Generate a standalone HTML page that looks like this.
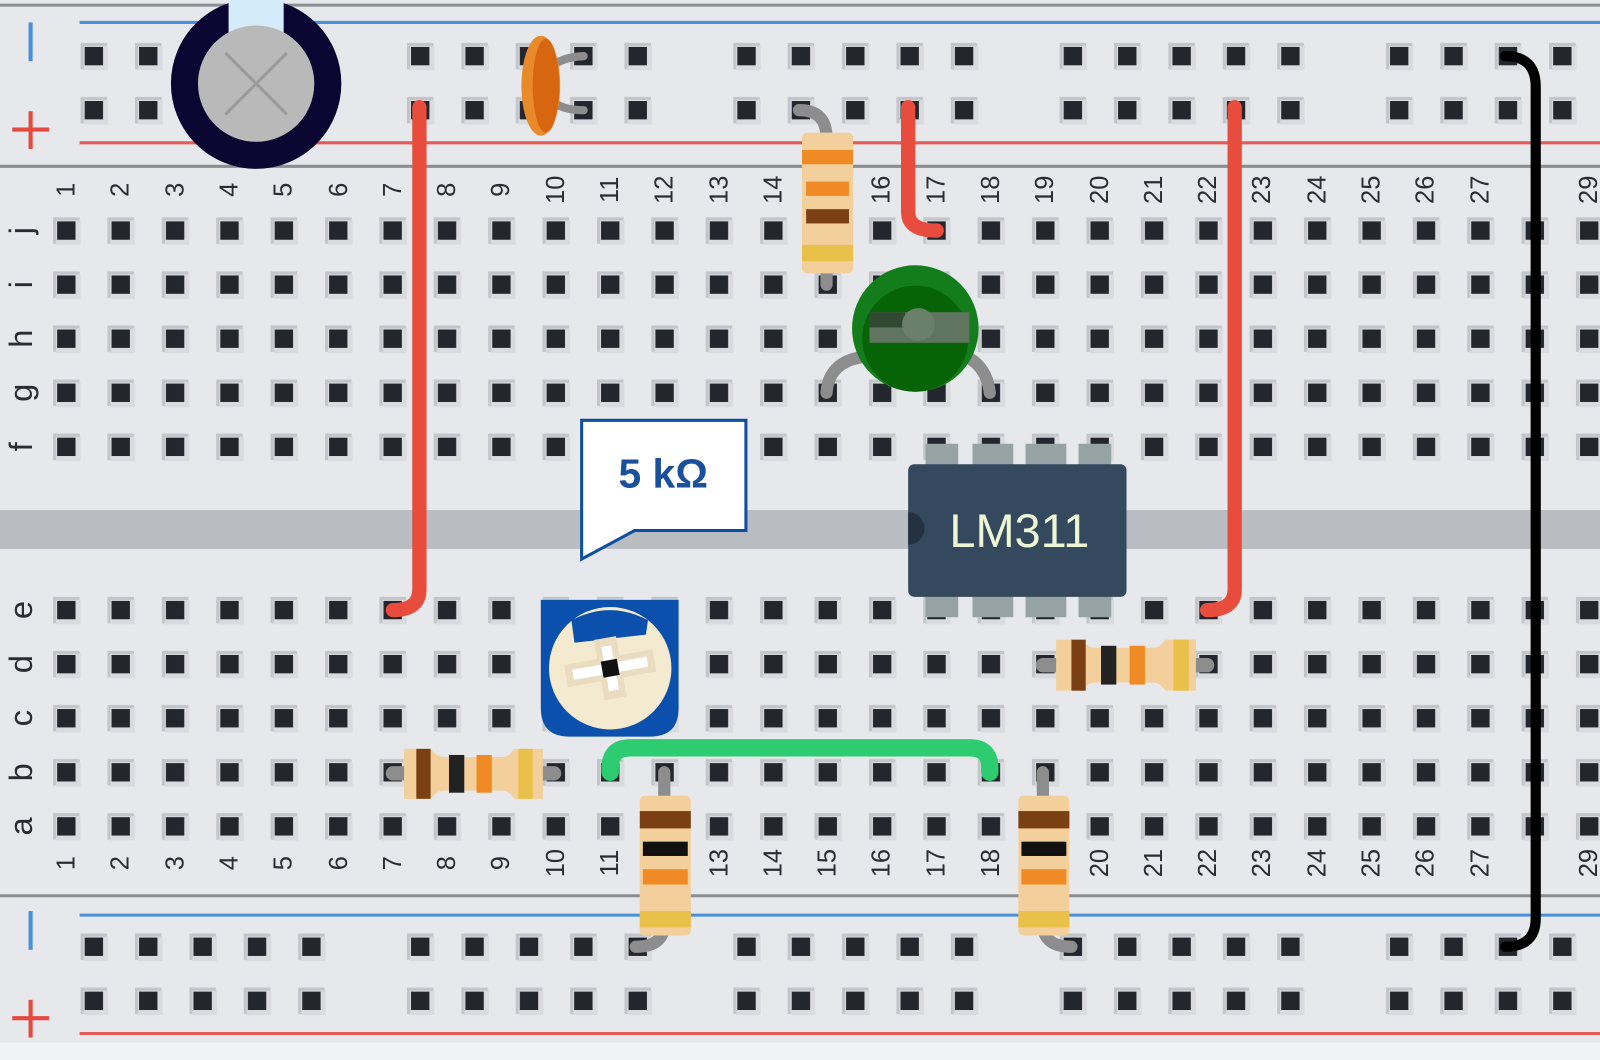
<!DOCTYPE html>
<html><head><meta charset="utf-8"><style>
html,body{margin:0;padding:0;background:#e6e8eb;}
svg{display:block;}
text{font-family:"Liberation Sans",sans-serif;}
</style></head><body>
<svg width="1600" height="1060" viewBox="0 0 1568 1039" preserveAspectRatio="none" xmlns="http://www.w3.org/2000/svg">
<defs>
<g id="h"><rect x="-13" y="-13" width="26" height="26" fill="#c2c5ca"/><rect x="-10" y="-10" width="24" height="24" fill="#d9dbdf"/><rect x="-9" y="-9" width="18" height="18" fill="#23262d"/></g>
<pattern id="p1" patternUnits="userSpaceOnUse" x="38.35" y="199.5" width="53.3" height="53"><use href="#h" x="26.65" y="26.5"/></pattern>
<pattern id="p2" patternUnits="userSpaceOnUse" x="38.35" y="571.5" width="53.3" height="53"><use href="#h" x="26.65" y="26.5"/></pattern>
<pattern id="r1" patternUnits="userSpaceOnUse" x="65.35" y="28.5" width="53.3" height="53"><use href="#h" x="26.65" y="26.5"/></pattern>
<pattern id="r2" patternUnits="userSpaceOnUse" x="65.35" y="901.5" width="53.3" height="53"><use href="#h" x="26.65" y="26.5"/></pattern>
</defs>
<rect x="0" y="0" width="1568" height="1039" fill="#e6e8eb"/>
<rect x="0" y="1022" width="1568" height="17" fill="#f1f2f4"/>
<line x1="0" y1="5" x2="1568" y2="5" stroke="#8c8f94" stroke-width="3"/>
<line x1="78" y1="22" x2="1568" y2="22" stroke="#4a8fdb" stroke-width="3"/>
<line x1="78" y1="140" x2="1568" y2="140" stroke="#e35b57" stroke-width="3"/>
<line x1="0" y1="163" x2="1568" y2="163" stroke="#8a8d92" stroke-width="3"/>
<line x1="0" y1="878" x2="1568" y2="878" stroke="#8a8d92" stroke-width="3"/>
<line x1="78" y1="897" x2="1568" y2="897" stroke="#4a8fdb" stroke-width="3"/>
<line x1="78" y1="1013" x2="1568" y2="1013" stroke="#e35b57" stroke-width="3"/>
<rect x="0" y="500" width="1568" height="38" fill="#b9bdc2"/>
<!-- holes -->
<rect x="38.35" y="199.5" width="1545.7" height="265" fill="url(#p1)"/>
<rect x="38.35" y="571.5" width="1545.7" height="265" fill="url(#p2)"/>
<rect x="65.35" y="28.5" width="266.5" height="106" fill="url(#r1)"/>
<rect x="385.15" y="28.5" width="266.5" height="106" fill="url(#r1)"/>
<rect x="704.95" y="28.5" width="266.5" height="106" fill="url(#r1)"/>
<rect x="1024.75" y="28.5" width="266.5" height="106" fill="url(#r1)"/>
<rect x="1344.55" y="28.5" width="266.5" height="106" fill="url(#r1)"/>
<rect x="65.35" y="901.5" width="266.5" height="106" fill="url(#r2)"/>
<rect x="385.15" y="901.5" width="266.5" height="106" fill="url(#r2)"/>
<rect x="704.95" y="901.5" width="266.5" height="106" fill="url(#r2)"/>
<rect x="1024.75" y="901.5" width="266.5" height="106" fill="url(#r2)"/>
<rect x="1344.55" y="901.5" width="266.5" height="106" fill="url(#r2)"/>
<!-- rail signs -->
<line x1="30" y1="22" x2="30" y2="60" stroke="#4a8fdb" stroke-width="4"/>
<line x1="12" y1="127" x2="48" y2="127" stroke="#e5483f" stroke-width="4"/><line x1="30" y1="109" x2="30" y2="146" stroke="#e5483f" stroke-width="4"/>
<line x1="30" y1="893" x2="30" y2="931" stroke="#4a8fdb" stroke-width="4"/>
<line x1="12" y1="998" x2="48" y2="998" stroke="#e5483f" stroke-width="4"/><line x1="30" y1="980" x2="30" y2="1017" stroke="#e5483f" stroke-width="4"/>
<g fill="#2a2d33" font-size="32" text-anchor="middle" dominant-baseline="central">
<text transform="translate(20,226) rotate(-90)">j</text>
<text transform="translate(20,279) rotate(-90)">i</text>
<text transform="translate(20,332) rotate(-90)">h</text>
<text transform="translate(20,385) rotate(-90)">g</text>
<text transform="translate(20,438) rotate(-90)">f</text>
<text transform="translate(20,598) rotate(-90)">e</text>
<text transform="translate(20,651) rotate(-90)">d</text>
<text transform="translate(20,704) rotate(-90)">c</text>
<text transform="translate(20,757) rotate(-90)">b</text>
<text transform="translate(20,810) rotate(-90)">a</text>
</g>
<g fill="#2a2d33" font-size="25" text-anchor="middle" dominant-baseline="central">
<text transform="translate(65,186) rotate(-90)">1</text><text transform="translate(118,186) rotate(-90)">2</text><text transform="translate(172,186) rotate(-90)">3</text><text transform="translate(225,186) rotate(-90)">4</text><text transform="translate(278,186) rotate(-90)">5</text><text transform="translate(332,186) rotate(-90)">6</text><text transform="translate(385,186) rotate(-90)">7</text><text transform="translate(438,186) rotate(-90)">8</text><text transform="translate(491,186) rotate(-90)">9</text><text transform="translate(545,186) rotate(-90)">10</text><text transform="translate(598,186) rotate(-90)">11</text><text transform="translate(651,186) rotate(-90)">12</text><text transform="translate(705,186) rotate(-90)">13</text><text transform="translate(758,186) rotate(-90)">14</text><text transform="translate(811,186) rotate(-90)">15</text><text transform="translate(864,186) rotate(-90)">16</text><text transform="translate(918,186) rotate(-90)">17</text><text transform="translate(971,186) rotate(-90)">18</text><text transform="translate(1024,186) rotate(-90)">19</text><text transform="translate(1078,186) rotate(-90)">20</text><text transform="translate(1131,186) rotate(-90)">21</text><text transform="translate(1184,186) rotate(-90)">22</text><text transform="translate(1237,186) rotate(-90)">23</text><text transform="translate(1291,186) rotate(-90)">24</text><text transform="translate(1344,186) rotate(-90)">25</text><text transform="translate(1397,186) rotate(-90)">26</text><text transform="translate(1451,186) rotate(-90)">27</text><text transform="translate(1557,186) rotate(-90)">29</text>
<text transform="translate(65,846) rotate(-90)">1</text><text transform="translate(118,846) rotate(-90)">2</text><text transform="translate(172,846) rotate(-90)">3</text><text transform="translate(225,846) rotate(-90)">4</text><text transform="translate(278,846) rotate(-90)">5</text><text transform="translate(332,846) rotate(-90)">6</text><text transform="translate(385,846) rotate(-90)">7</text><text transform="translate(438,846) rotate(-90)">8</text><text transform="translate(491,846) rotate(-90)">9</text><text transform="translate(545,846) rotate(-90)">10</text><text transform="translate(598,846) rotate(-90)">11</text><text transform="translate(651,846) rotate(-90)">12</text><text transform="translate(705,846) rotate(-90)">13</text><text transform="translate(758,846) rotate(-90)">14</text><text transform="translate(811,846) rotate(-90)">15</text><text transform="translate(864,846) rotate(-90)">16</text><text transform="translate(918,846) rotate(-90)">17</text><text transform="translate(971,846) rotate(-90)">18</text><text transform="translate(1024,846) rotate(-90)">19</text><text transform="translate(1078,846) rotate(-90)">20</text><text transform="translate(1131,846) rotate(-90)">21</text><text transform="translate(1184,846) rotate(-90)">22</text><text transform="translate(1237,846) rotate(-90)">23</text><text transform="translate(1291,846) rotate(-90)">24</text><text transform="translate(1344,846) rotate(-90)">25</text><text transform="translate(1397,846) rotate(-90)">26</text><text transform="translate(1451,846) rotate(-90)">27</text><text transform="translate(1557,846) rotate(-90)">29</text>
</g>

<!-- electrolytic capacitor -->
<circle cx="251" cy="82" r="70" fill="none" stroke="#0a0531" stroke-width="27"/>
<rect x="224" y="0" width="54" height="32" fill="#d4ebfa"/>
<circle cx="251" cy="82" r="57" fill="#b9b9b9"/>
<line x1="221" y1="52" x2="281" y2="112" stroke="#9a9a9a" stroke-width="3"/>
<line x1="281" y1="52" x2="221" y2="112" stroke="#9a9a9a" stroke-width="3"/>

<!-- ceramic capacitor -->
<path d="M540 66 Q550 56 572 55" stroke="#8d8d8d" stroke-width="8" fill="none" stroke-linecap="round"/>
<path d="M540 98 Q550 108 572 108" stroke="#8d8d8d" stroke-width="8" fill="none" stroke-linecap="round"/>
<ellipse cx="530" cy="84" rx="19" ry="49" fill="#e98a2a"/>
<ellipse cx="535" cy="84" rx="13" ry="46" fill="#d8650f"/>

<!-- red wires -->
<g stroke="#e74c3c" stroke-width="14" fill="none" stroke-linecap="round">
<path d="M411 105 L411 578 Q411 598 385 598"/>
<path d="M890 105 L890 208 Q890 226 918 226"/>
<path d="M1210 105 L1210 578 Q1210 598 1183 598"/>
</g>

<!-- resistor top vertical col15 -->
<path d="M783 108 Q810 108 810 135" stroke="#8d8d8d" stroke-width="12" fill="none" stroke-linecap="round"/>
<line x1="810" y1="260" x2="810" y2="279" stroke="#8d8d8d" stroke-width="12" stroke-linecap="round"/>
<rect x="786" y="130" width="50" height="138" rx="5" fill="#f2cf9b"/>
<rect x="786" y="147" width="50" height="14" fill="#f08a24"/>
<rect x="790" y="178" width="42" height="14" fill="#f08a24"/>
<rect x="790" y="205" width="42" height="14" fill="#7b3f14"/>
<rect x="786" y="240" width="50" height="16" fill="#e8c04a"/>

<!-- LED -->
<path d="M810 385 Q812 355 845 350" stroke="#8d8d8d" stroke-width="12" fill="none" stroke-linecap="round"/>
<path d="M970 385 Q967 360 948 350" stroke="#8d8d8d" stroke-width="12" fill="none" stroke-linecap="round"/>
<circle cx="897" cy="322" r="62" fill="#137d1b"/>
<circle cx="897" cy="332" r="52" fill="#066306"/>
<rect x="852" y="306" width="98" height="30" fill="#5f7560"/>
<rect x="852" y="306" width="35" height="15" fill="#2f4a30"/>
<circle cx="900" cy="318" r="16" fill="#6a806a"/>

<!-- LM311 -->
<g fill="#95a3a5">
<rect x="907" y="435" width="32" height="22"/><rect x="953" y="435" width="40" height="22"/><rect x="1005" y="435" width="40" height="22"/><rect x="1057" y="435" width="32" height="22"/>
<rect x="907" y="583" width="32" height="22"/><rect x="953" y="583" width="40" height="22"/><rect x="1005" y="583" width="40" height="22"/><rect x="1057" y="583" width="32" height="22"/>
</g>
<rect x="890" y="455" width="214" height="130" rx="6" fill="#34495e"/>
<path d="M890 502 A16 16 0 0 1 890 534 Z" fill="#233140"/>
<text x="999" y="536" text-anchor="middle" font-size="46" fill="#eef5d4">LM311</text>

<!-- callout -->
<path d="M570 520 L570 412 L731 412 L731 520 L622 520 L570 548 Z" fill="#fff" stroke="#0d4f9e" stroke-width="3"/>
<text x="650" y="478" text-anchor="middle" font-size="40" font-weight="bold" fill="#1a4f9c">5 kΩ</text>

<!-- potentiometer -->
<path d="M530 588 L665 588 L665 694 Q665 722 637 722 L558 722 Q530 722 530 694 Z" fill="#0b50ac"/>
<circle cx="598" cy="655" r="60" fill="#f3ead0"/>
<path d="M560 608 Q598 588 635 608 L633 622 L563 630 Z" fill="#0b50ac"/>
<g transform="translate(598,655) rotate(-10)">
<rect x="-44" y="-11" width="88" height="22" fill="#e9dcc0"/>
<rect x="-11" y="-30" width="22" height="60" fill="#e9dcc0"/>
<rect x="-37" y="-5" width="74" height="10" fill="#fff"/>
<rect x="-5" y="-22" width="10" height="44" fill="#fff"/>
<rect x="-8" y="-8" width="16" height="16" fill="#111"/>
</g>

<!-- horizontal resistor row b col7-10 -->
<line x1="385" y1="758" x2="543" y2="758" stroke="#8d8d8d" stroke-width="14" stroke-linecap="round"/>
<path d="M396 734 L422 734 Q428 742 435 742 L492 742 Q499 742 504 734 L532 734 L532 783 L504 783 Q499 775 492 775 L435 775 Q428 775 422 783 L396 783 Z" fill="#f2cf9b"/>
<rect x="408" y="734" width="14" height="49" fill="#7b3f14"/>
<rect x="440" y="740" width="15" height="37" fill="#222"/>
<rect x="467" y="740" width="15" height="37" fill="#f08a24"/>
<rect x="508" y="734" width="14" height="49" fill="#e8c04a"/>

<!-- horizontal resistor row d col19-22 -->
<line x1="1022" y1="652" x2="1183" y2="652" stroke="#8d8d8d" stroke-width="14" stroke-linecap="round"/>
<path d="M1035 627 L1060 627 Q1066 635 1073 635 L1130 635 Q1137 635 1142 627 L1172 627 L1172 677 L1142 677 Q1137 669 1130 669 L1073 669 Q1066 669 1060 677 L1035 677 Z" fill="#f2cf9b"/>
<rect x="1050" y="627" width="14" height="50" fill="#7b3f14"/>
<rect x="1079" y="633" width="15" height="38" fill="#222"/>
<rect x="1107" y="633" width="15" height="38" fill="#f08a24"/>
<rect x="1150" y="627" width="15" height="50" fill="#e8c04a"/>

<!-- green wire -->
<path d="M598 757 L598 752 Q598 733 618 733 L950 733 Q970 733 970 752 L970 757" stroke="#2ecc71" stroke-width="17" fill="none" stroke-linecap="round"/>

<!-- vertical resistors bottom -->
<line x1="651" y1="757" x2="651" y2="785" stroke="#8d8d8d" stroke-width="12" stroke-linecap="round"/>
<path d="M651 905 Q651 928 623 928" stroke="#8d8d8d" stroke-width="12" fill="none" stroke-linecap="round"/>
<rect x="627" y="780" width="50" height="137" rx="5" fill="#f2cf9b"/>
<rect x="627" y="795" width="50" height="17" fill="#7b3f14"/>
<rect x="630" y="825" width="44" height="14" fill="#111"/>
<rect x="630" y="852" width="44" height="15" fill="#f08a24"/>
<rect x="627" y="893" width="50" height="16" fill="#e8c04a"/>

<line x1="1022" y1="757" x2="1022" y2="785" stroke="#8d8d8d" stroke-width="12" stroke-linecap="round"/>
<path d="M1022 905 Q1022 928 1050 928" stroke="#8d8d8d" stroke-width="12" fill="none" stroke-linecap="round"/>
<rect x="998" y="780" width="50" height="137" rx="5" fill="#f2cf9b"/>
<rect x="998" y="795" width="50" height="17" fill="#7b3f14"/>
<rect x="1001" y="825" width="44" height="14" fill="#111"/>
<rect x="1001" y="852" width="44" height="15" fill="#f08a24"/>
<rect x="998" y="893" width="50" height="16" fill="#e8c04a"/>

<!-- black wire -->
<path d="M1475 55 Q1505 55 1505 85 L1505 900 Q1505 928 1475 928" stroke="#000" stroke-width="10" fill="none" stroke-linecap="round"/>
</svg>
</body></html>
